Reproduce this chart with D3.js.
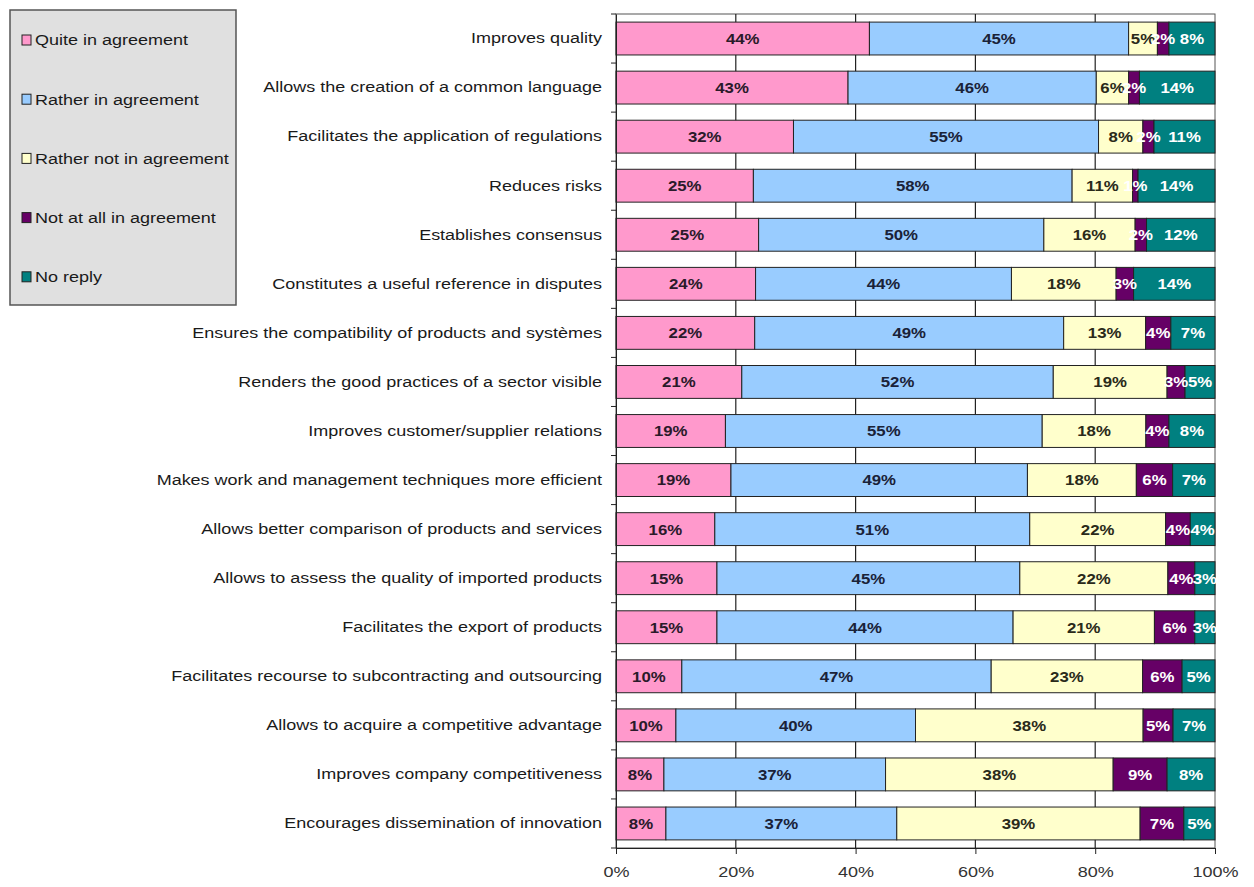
<!DOCTYPE html>
<html>
<head>
<meta charset="utf-8">
<script src="https://cdn.jsdelivr.net/npm/d3@7"></script>
<style>
  html, body { margin: 0; padding: 0; background: #fff; }
  svg { display: block; font-family: "Liberation Sans", Arial, sans-serif; }
</style>
</head>
<body>
<svg id="chart" width="1254" height="887"></svg>
<script>
// Survey statements, top to bottom
const categories = [
  "Improves quality",
  "Allows the creation of a common language",
  "Facilitates the application of regulations",
  "Reduces risks",
  "Establishes consensus",
  "Constitutes a useful reference in disputes",
  "Ensures the compatibility of products and systèmes",
  "Renders the good practices of a sector visible",
  "Improves customer/supplier relations",
  "Makes work and management techniques more efficient",
  "Allows better comparison of products and services",
  "Allows to assess the quality of imported products",
  "Facilitates the export of products",
  "Facilitates recourse to subcontracting and outsourcing",
  "Allows to acquire a competitive advantage",
  "Improves company competitiveness",
  "Encourages dissemination of innovation"
];

const seriesNames = [
  "Quite in agreement",
  "Rather in agreement",
  "Rather not in agreement",
  "Not at all in agreement",
  "No reply"
];

// Percentages per answer, one entry per statement
const quiteAgree    = [44, 43, 32, 25, 25, 24, 22, 21, 19, 19, 16, 15, 15, 10, 10, 8, 8];
const ratherAgree   = [45, 46, 55, 58, 50, 44, 49, 52, 55, 49, 51, 45, 44, 47, 40, 37, 37];
const ratherNot     = [5, 6, 8, 11, 16, 18, 13, 19, 18, 18, 22, 22, 21, 23, 38, 38, 39];
const notAtAll      = [2, 2, 2, 1, 2, 3, 4, 3, 4, 6, 4, 4, 6, 6, 5, 9, 7];
const noReply       = [8, 14, 11, 14, 12, 14, 7, 5, 8, 7, 4, 3, 3, 5, 7, 8, 5];

const tickValues = [0, 0.2, 0.4, 0.6, 0.8, 1];

const colors = ["#ff99cc", "#99ccff", "#ffffcc", "#660066", "#008080"];
const labelColors = ["#2a1a2a", "#1a2238", "#2a2a1a", "#ffffff", "#ffffff"];

const seriesValues = [quiteAgree, ratherAgree, ratherNot, notAtAll, noReply];

// Widen text horizontally around its anchor point
const STRETCH = 1.2;
function stretch(sel, k = STRETCH) {
  sel.each(function () {
    const t = d3.select(this);
    const ax = +t.attr("x") || 0;
    t.attr("transform", `translate(${ax},0) scale(${k},1) translate(${-ax},0)`);
  });
}

// Build rows, then normalise each row to 100%
const rows = categories.map((c, i) => {
  const r = { category: c };
  seriesNames.forEach((s, k) => { r[s] = seriesValues[k][i]; });
  return r;
});
const stacked = d3.stack().keys(seriesNames).offset(d3.stackOffsetExpand)(rows);

const svg = d3.select("#chart");
const margin = { left: 616, right: 39, top: 14, bottom: 39 };
const W = 1254, H = 887;

const x = d3.scaleLinear().domain([0, 1]).range([margin.left, W - margin.right]);
const y = d3.scaleBand().domain(categories).range([margin.top, H - margin.bottom]).paddingInner(0.33).paddingOuter(0.165);

// Plot frame + gridlines
const g = svg.append("g");
g.append("rect")
  .attr("x", x(0)).attr("y", margin.top)
  .attr("width", x(1) - x(0)).attr("height", H - margin.bottom - margin.top)
  .attr("fill", "#fff").attr("stroke", "#555").attr("stroke-width", 1);

g.selectAll("line.grid").data(tickValues.slice(1, -1)).join("line")
  .attr("class", "grid")
  .attr("x1", d => x(d)).attr("x2", d => x(d))
  .attr("y1", margin.top).attr("y2", H - margin.bottom)
  .attr("stroke", "#222").attr("stroke-width", 1.2);

// Bars
const layer = g.selectAll("g.layer").data(stacked).join("g")
  .attr("class", "layer")
  .attr("fill", (d, i) => colors[i]);

layer.selectAll("rect").data(d => d).join("rect")
  .attr("x", d => x(d[0]))
  .attr("y", d => y(d.data.category))
  .attr("width", d => x(d[1]) - x(d[0]))
  .attr("height", y.bandwidth())
  .attr("stroke", "#222").attr("stroke-width", 1);

// Value labels
stacked.forEach((s, k) => {
  const lbl = g.selectAll(null).data(s).join("text")
    .attr("x", d => (x(d[0]) + x(d[1])) / 2)
    .attr("y", d => y(d.data.category) + y.bandwidth() / 2)
    .attr("dy", "0.36em")
    .attr("text-anchor", "middle")
    .attr("font-size", 15)
    .attr("font-weight", "bold")
    .attr("fill", labelColors[k])
    .text(d => d.data[s.key] + "%");
  stretch(lbl, 1.12);
});

// Left axis with category labels
const yAxis = d3.axisLeft(y).tickSize(0).tickPadding(14);
const ya = svg.append("g").attr("transform", `translate(${x(0)},0)`).call(yAxis);
ya.select(".domain").attr("stroke", "#222");
ya.selectAll("text").attr("font-size", 15).attr("fill", "#1a1a1a")
  .attr("font-family", "Liberation Sans, Arial, sans-serif");
stretch(ya.selectAll("text"));

// Small ticks between categories
const step = y.step();
const bounds = d3.range(categories.length + 1).map(i => margin.top + i * step);
svg.append("g").selectAll("line").data(bounds).join("line")
  .attr("x1", x(0) - 5).attr("x2", x(0))
  .attr("y1", d => d).attr("y2", d => d)
  .attr("stroke", "#222");

// Bottom axis
const xAxis = d3.axisBottom(x).tickValues(tickValues).tickFormat(d3.format(".0%")).tickSize(6).tickPadding(12);
const xa = svg.append("g").attr("transform", `translate(0,${H - margin.bottom})`).call(xAxis);
xa.select(".domain").attr("stroke", "#222");
xa.selectAll(".tick line").attr("stroke", "#222");
xa.selectAll("text").attr("font-size", 15).attr("fill", "#333")
  .attr("font-family", "Liberation Sans, Arial, sans-serif");
stretch(xa.selectAll("text"));

// Legend
const legend = svg.append("g").attr("transform", "translate(10,10)");
legend.append("rect").attr("width", 226).attr("height", 295)
  .attr("fill", "#e0e0e0").attr("stroke", "#555").attr("stroke-width", 1.5);
const item = legend.selectAll("g.item").data(seriesNames).join("g")
  .attr("class", "item")
  .attr("transform", (d, i) => `translate(12,${30 + i * 59.2})`);
item.append("rect").attr("x", 0).attr("y", -5).attr("width", 9).attr("height", 10)
  .attr("fill", (d, i) => colors[i]).attr("stroke", "#222").attr("stroke-width", 1);
const legText = item.append("text").attr("x", 13).attr("dy", "0.36em")
  .attr("font-size", 15).attr("fill", "#1a1a1a").text(d => d);
stretch(legText);
</script>
</body>
</html>
